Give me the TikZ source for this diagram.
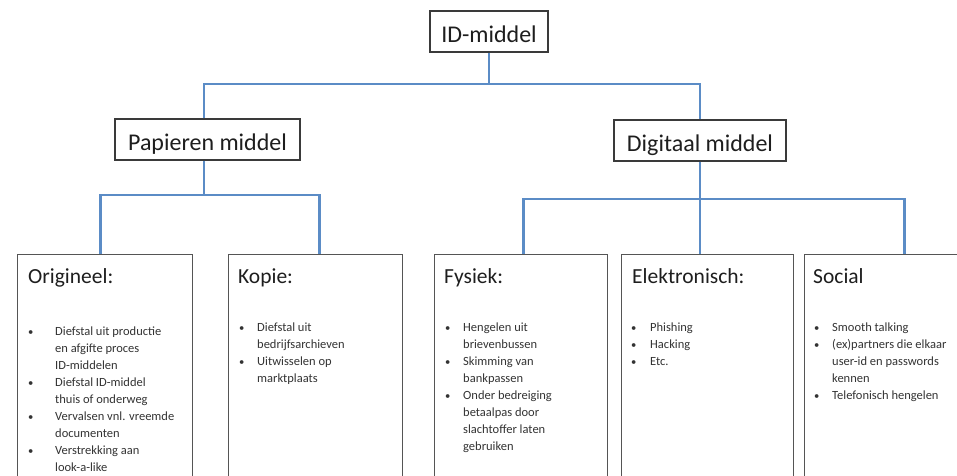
\documentclass[tikz,border=0pt]{standalone}
\usepackage{fontspec}
\setmainfont{Carlito}
\definecolor{blueline}{HTML}{5B8CC6}
\definecolor{boxline}{HTML}{3A3A3A}
\definecolor{leafline}{HTML}{555555}
\definecolor{txt}{HTML}{1E1E1E}
\definecolor{listtxt}{HTML}{333333}
\newcommand\bitem[2][18pt]{\makebox[#1][l]{\scalebox{0.85}{\textbullet}}#2}
\newcommand\bcont[2][18pt]{\hspace*{#1}#2}
\begin{document}
\begin{tikzpicture}[x=1pt,y=-1pt,
  conn/.style={draw=blueline, line width=2.6pt},
  topbox/.style={draw=boxline, line width=1.1pt, fill=white, inner sep=0pt, text=txt,
    text height=24pt, text depth=1.5pt, font=\fontsize{24}{28}\selectfont},
  leaf/.style={draw=leafline, line width=0.9pt, anchor=north west, inner sep=0pt,
    minimum width=175pt, minimum height=250pt},
  ttl/.style={anchor=base west, inner sep=0pt, text=txt, font=\fontsize{21.5}{26}\selectfont},
  lst/.style={anchor=base west, inner sep=0pt, text=listtxt, font=\fontsize{12.5}{17}\selectfont}]
\useasboundingbox (0,0) rectangle (957,475);
\clip (0,0) rectangle (957,475);
\fill[white] (0,0) rectangle (957,475);

% top level
\node[topbox, minimum width=118pt, minimum height=41pt] (id) at (489,31.5) {ID-middel};
\node[topbox, minimum width=185pt, minimum height=41pt] (pap) at (207.5,139.5) {Papieren middel};
\node[topbox, minimum width=172pt, minimum height=41pt] (dig) at (700,140.5) {Digitaal middel};

% leaf boxes
\node[leaf] (orig) at (17,254) {};
\node[leaf, minimum width=174pt] (kop) at (228,254) {};
\node[leaf, minimum width=173pt] (fys) at (434,254) {};
\node[leaf, minimum width=172pt] (elek) at (621,254) {};
\node[leaf] (soc) at (804,254) {};

% titles
\node[ttl] (torig) at (28,283) {Origineel:};
\node[ttl] (tkop) at (238,283) {Kopie:};
\node[ttl] (tfys) at (444,283) {Fysiek:};
\node[ttl] (telek) at (632,283) {Elektronisch:};
\node[ttl] (tsoc) at (813,283) {Social};

% lists
\node[lst] (lorig) at (28,335) {\begin{tabular}[t]{@{}l@{}}
\bitem[27pt]{Diefstal uit productie}\\
\bcont[27pt]{en afgifte proces}\\
\bcont[27pt]{ID-middelen}\\
\bitem[27pt]{Diefstal ID-middel}\\
\bcont[27pt]{thuis of onderweg}\\
\bitem[27pt]{Vervalsen vnl. vreemde}\\
\bcont[27pt]{documenten}\\
\bitem[27pt]{Verstrekking aan}\\
\bcont[27pt]{look-a-like}
\end{tabular}};
\node[lst] (lkop) at (239,331) {\begin{tabular}[t]{@{}l@{}}
\bitem{Diefstal uit}\\
\bcont{bedrijfsarchieven}\\
\bitem{Uitwisselen op}\\
\bcont{marktplaats}
\end{tabular}};
\node[lst] (lfys) at (445,331) {\begin{tabular}[t]{@{}l@{}}
\bitem{Hengelen uit}\\
\bcont{brievenbussen}\\
\bitem{Skimming van}\\
\bcont{bankpassen}\\
\bitem{Onder bedreiging}\\
\bcont{betaalpas door}\\
\bcont{slachtoffer laten}\\
\bcont{gebruiken}
\end{tabular}};
\node[lst] (lelek) at (631,331) {\begin{tabular}[t]{@{}l@{}}
\bitem[19pt]{Phishing}\\
\bitem[19pt]{Hacking}\\
\bitem[19pt]{Etc.}
\end{tabular}};
\node[lst] (lsoc) at (814,331) {\begin{tabular}[t]{@{}l@{}}
\bitem{Smooth talking}\\
\bitem{(ex)partners die elkaar}\\
\bcont{user-id en passwords}\\
\bcont{kennen}\\
\bitem{Telefonisch hengelen}
\end{tabular}};

% connector attachment points
\coordinate (r1) at (0,84);
\coordinate (r2) at (0,195);
\coordinate (r3) at (0,199);
\coordinate (papN) at ([xshift=-3.5pt]pap.north);
\coordinate (papS) at ([xshift=-3.5pt]pap.south);
\coordinate (origN) at ([xshift=-4.5pt]orig.north);
\coordinate (kopN) at ([xshift=4pt]kop.north);
\coordinate (fysN) at ([xshift=2.5pt]fys.north);
\coordinate (socN) at ([xshift=12.5pt]soc.north);

% connectors
\draw[conn] (id.south) -- (id.south |- r1);
\draw[conn] (papN) |- (r1 -| dig.north) -- (dig.north);
\draw[conn] (papS) -- (papS |- r2);
\draw[conn] (origN) |- (r2 -| kopN) -- (kopN);
\draw[conn] (dig.south) -- (dig.south |- elek.north);
\draw[conn] (fysN) |- (r3 -| socN) -- (socN);
\end{tikzpicture}
\end{document}
